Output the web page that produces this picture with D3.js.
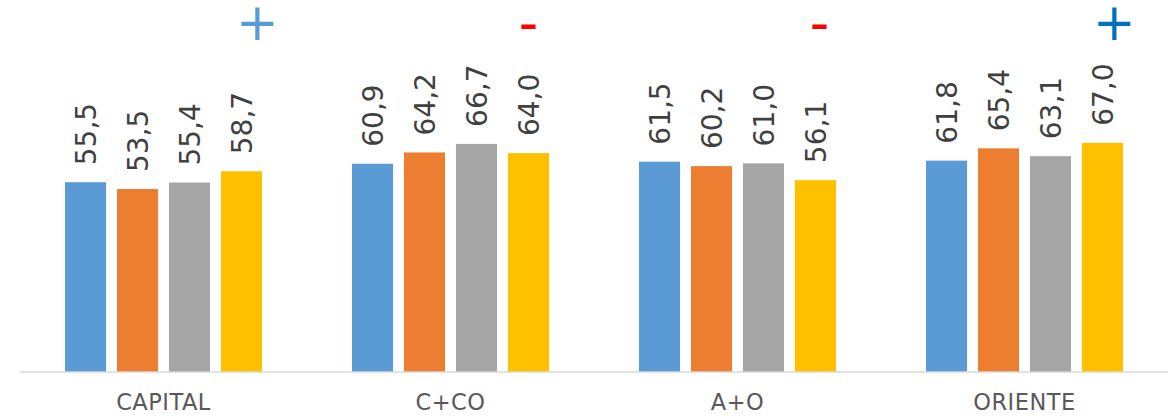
<!DOCTYPE html>
<html>
<head>
<meta charset="utf-8">
<script src="https://cdn.jsdelivr.net/npm/d3@7"></script>
<style>
  html, body { margin: 0; padding: 0; background: #fff; }
  svg { display: block; }
</style>
</head>
<body>
<svg id="chart" width="1173" height="418"></svg>
<script>
// ---- data ----
const categories = ["CAPITAL", "C+CO", "A+O", "ORIENTE"];
const seriesNames = ["Serie 1", "Serie 2", "Serie 3", "Serie 4"];
const serie1 = [55.5, 60.9, 61.5, 61.8];
const serie2 = [53.5, 64.2, 60.2, 65.4];
const serie3 = [55.4, 66.7, 61.0, 63.1];
const serie4 = [58.7, 64.0, 56.1, 67.0];
const seriesColors = ["#5B9BD5", "#ED7D31", "#A5A5A5", "#FFC000"];
// trend markers above each group
const trendSigns = ["+", "–", "–", "+"];
const trendColors = ["#5B9BD5", "#FF0000", "#FF0000", "#0070C0"];

const seriesValues = [serie1, serie2, serie3, serie4];

const svg = d3.select("#chart");
const baseY = 372;

const x0 = d3.scaleBand().domain(categories).range([20, 1168])
  .paddingInner(0.3136).paddingOuter(0.1568);
const x1 = d3.scaleBand().domain(seriesNames).range([0, x0.bandwidth()])
  .paddingInner(0.21).paddingOuter(0);
const y = d3.scaleLinear().domain([0, 100]).range([baseY, 30]);

const fmt = v => d3.format(".1f")(v).replace(".", ",");

const rows = [];
categories.forEach((c, ci) => {
  seriesNames.forEach((s, si) => {
    rows.push({ cat: c, ser: s, si, value: seriesValues[si][ci] });
  });
});

svg.append("g").selectAll("rect").data(rows).join("rect")
  .attr("x", d => x0(d.cat) + x1(d.ser))
  .attr("y", d => y(d.value))
  .attr("width", x1.bandwidth())
  .attr("height", d => y(0) - y(d.value))
  .attr("fill", d => seriesColors[d.si]);

// data labels (rotated)
svg.append("g").selectAll("text").data(rows).join("text")
  .attr("transform", d => `translate(${x0(d.cat) + x1(d.ser) + x1.bandwidth() / 2},${y(d.value) - 17}) rotate(-90)`)
  .attr("dy", "0.36em")
  .attr("text-anchor", "start")
  .attr("font-family", "DejaVu Sans, sans-serif")
  .attr("font-size", 28)
  .attr("fill", "#404040")
  .text(d => fmt(d.value));

// baseline axis
const xAxis = d3.axisBottom(x0).tickSize(0).tickPadding(0);
const ax = svg.append("g").attr("transform", `translate(0,${baseY})`).call(xAxis);
ax.select(".domain").attr("d", `M20,0H1168`).attr("stroke", "#D9D9D9").attr("stroke-width", 1.5);
ax.selectAll(".tick text")
  .attr("y", 38).attr("dy", 0)
  .attr("font-family", "DejaVu Sans, sans-serif")
  .attr("font-size", 22.5)
  .attr("letter-spacing", 0.5)
  .attr("fill", "#595959");

// trend signs, placed relative to the last bar of each group
const lastSer = seriesNames[seriesNames.length - 1];
const signNudge = [16, 0, 4, 12];
svg.append("g").selectAll("text").data(categories).join("text")
  .attr("x", (c, i) => x0(c) + x1(lastSer) + x1.bandwidth() / 2 + signNudge[i])
  .attr("y", (c, i) => trendSigns[i] === "+" ? 40 : 37)
  .attr("text-anchor", "middle")
  .attr("font-family", "DejaVu Sans, sans-serif")
  .attr("font-weight", (c, i) => trendSigns[i] === "+" ? "normal" : "bold")
  .attr("font-size", (c, i) => trendSigns[i] === "+" ? 51 : 36)
  .attr("fill", (c, i) => trendColors[i])
  .text((c, i) => trendSigns[i]);
</script>
</body>
</html>
